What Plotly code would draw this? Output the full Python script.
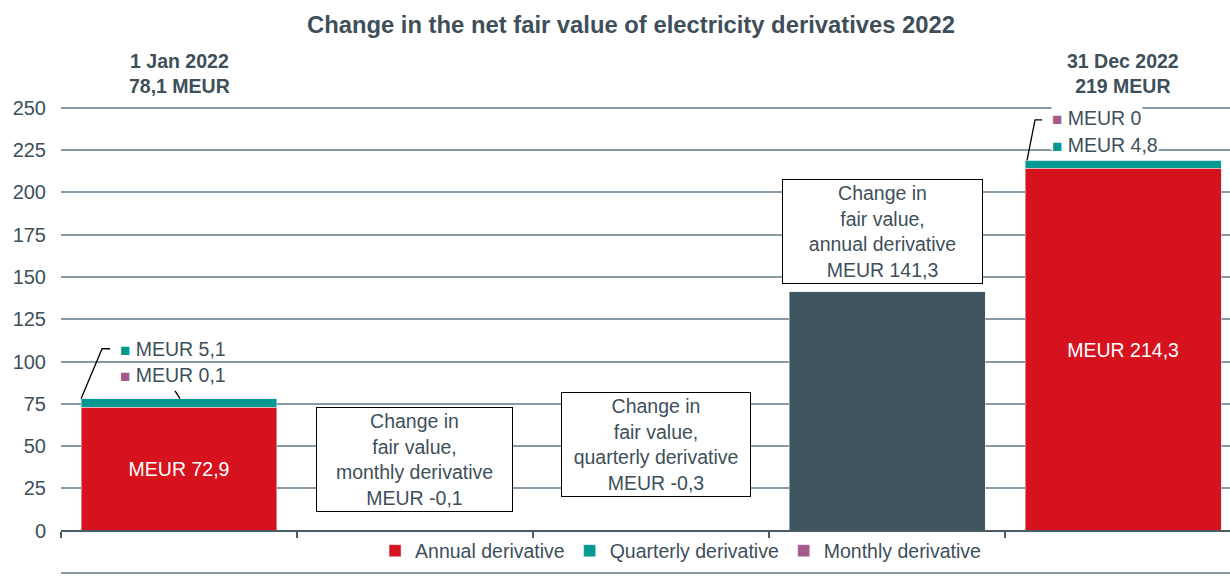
import plotly.graph_objects as go

# ---- data ----
positions = [0, 1, 2, 3, 4]
annual = [72.9, None, None, None, 214.3]
quarterly = [5.1, None, None, None, 4.8]
monthly = [0.1, None, None, None, 0.0]
annual_labels = ["MEUR 72,9", "", "", "", "MEUR 214,3"]
change_values = [None, -0.1, -0.3, 141.3, None]
start_total = 78.1
end_total = 219
start_label = "1 Jan 2022<br>78,1 MEUR"
end_label = "31 Dec 2022<br>219 MEUR"
box_texts = [
    "Change in<br>fair value,<br>monthly derivative<br>MEUR -0,1",
    "Change in<br>fair value,<br>quarterly derivative<br>MEUR -0,3",
    "Change in<br>fair value,<br>annual derivative<br>MEUR 141,3",
]
y_ticks = [-25, 0, 25, 50, 75, 100, 125, 150, 175, 200, 225, 250]

RED = "#D7121F"
TEAL = "#009A93"
PURPLE = "#A55A87"
DARK = "#3E545F"
TXT = "#3E4F5A"
GRID = "#8A9AA4"
FONT = "Liberation Sans"
FS = 19.5
BW = 0.83
W, H, MT, ML = 1230, 581, 91, 61
PH = H - MT

fig = go.Figure()
fig.add_trace(go.Bar(x=positions, y=annual, name="Annual derivative", marker_color=RED,
                     width=BW, text=annual_labels, textposition="inside",
                     insidetextanchor="middle", textangle=0,
                     textfont=dict(color="white", size=FS, family=FONT)))
fig.add_trace(go.Bar(x=positions, y=quarterly, name="Quarterly derivative", marker_color=TEAL,
                     width=BW, textposition="none"))
fig.add_trace(go.Bar(x=positions, y=monthly, name="Monthly derivative", marker_color=PURPLE,
                     width=BW, textposition="none"))
# only the annual change is visible as a bar (from zero); the others are negligible
dark_y = [v if (v is not None and abs(v) > 1) else None for v in change_values]
fig.add_trace(go.Bar(x=positions, y=dark_y, name="Change", marker_color=DARK,
                     width=BW, showlegend=False, textposition="none"))

ann = []
# top labels
for xi, t in [(0, start_label), (4, end_label)]:
    ann.append(dict(x=xi, xref="x", y=(H - 73) / PH, yref="paper", yanchor="middle",
                    text="<b>" + t + "</b>", showarrow=False,
                    font=dict(size=FS, color=TXT, family=FONT)))
# change boxes
box_pos = [(0.999, 42.0, 193), (2.02, 50.8, 186), (2.98, 176.7, 197)]
for (bx, by, bw), t in zip(box_pos, box_texts):
    ann.append(dict(x=bx, y=by, xref="x", yref="y", text=t, showarrow=False,
                    bordercolor="black", borderwidth=1, bgcolor="white",
                    width=bw, height=101, align="center",
                    font=dict(size=FS, color=TXT, family=FONT)))

def small_label(x, y, color, text):
    ann.append(dict(x=x, y=y, xref="x", yref="y", xanchor="left", showarrow=False,
                    text=f"<span style='color:{color};font-size:17px'>■</span> {text}",
                    bgcolor="white", borderpad=0,
                    font=dict(size=FS, color=TXT, family=FONT)))

small_label(-0.255, 107.6, TEAL, "MEUR 5,1")
small_label(-0.255, 92.2, PURPLE, "MEUR 0,1")
small_label(3.695, 244.0, PURPLE, "MEUR 0")
small_label(3.695, 228.0, TEAL, "MEUR 4,8")

shapes = []
def leader(pts):
    path = "M " + " L ".join(f"{px},{py}" for px, py in pts)
    shapes.append(dict(type="path", path=path, xref="x", yref="y",
                       line=dict(color="black", width=1.3)))

leader([(-BW / 2, start_total), (-0.326, 107.6), (-0.292, 107.6)])
leader([(0.004, start_total), (-0.017, 82.7)])
leader([(4 - BW / 2 + 0.008, end_total), (3.627, 242.9), (3.657, 242.9)])

fig.update_layout(
    width=W, height=H,
    margin=dict(l=ML, r=0, t=MT, b=0, autoexpand=False),
    plot_bgcolor="white", paper_bgcolor="white",
    barmode="stack",
    title=dict(text="<b>Change in the net fair value of electricity derivatives 2022</b>",
               x=631 / W, xanchor="center", xref="container",
               y=1 - 25 / H, yanchor="middle", yref="container",
               font=dict(size=23.8, color=TXT, family=FONT)),
    font=dict(family=FONT, color=TXT),
    showlegend=True,
    legend=dict(orientation="h", x=0.530, xanchor="center", y=(H - 551) / PH,
                yanchor="middle", bgcolor="rgba(0,0,0,0)",
                font=dict(size=FS, color=TXT, family=FONT),
                itemwidth=30, tracegroupgap=0, traceorder="normal"),
    annotations=ann, shapes=shapes,
)
y_bottom = -25 - 8 / 1.692
fig.update_xaxes(range=[-0.5, 4.453], showgrid=False, zeroline=False, automargin=False,
                 tickmode="array", tickvals=[-0.5, 0.5, 1.5, 2.5, 3.5, 4.5],
                 ticktext=[""] * 6, ticks="outside", ticklen=6, tickwidth=2,
                 tickcolor="#4A5C66", showline=True, linecolor="#4A5C66", linewidth=2,
                 anchor="free", position=(0 - y_bottom) / (260 - y_bottom))
fig.update_yaxes(range=[y_bottom, 260], tickvals=y_ticks, showgrid=True, gridcolor=GRID,
                 gridwidth=1.5, zeroline=False, showline=False, automargin=False,
                 tickfont=dict(size=20, color=TXT, family=FONT), ticklabelstandoff=14)

fig.write_html("out.html", config={"displayModeBar": False},
               post_script="document.body.style.margin='0px';document.body.style.overflow='hidden';")
